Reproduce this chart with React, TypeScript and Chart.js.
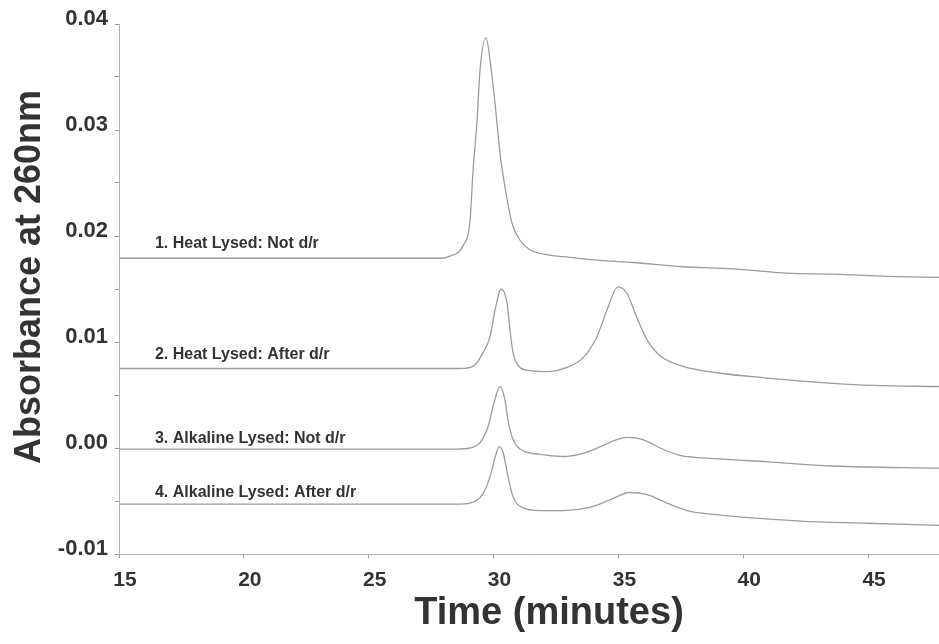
import { useEffect, useRef } from "react";
import { Chart, registerables } from "chart.js";

Chart.register(...registerables);

// ---------- data ----------
const xTickValues = [15, 20, 25, 30, 35, 40, 45];
const xMin = 15;
const xMax = 47.84;
const yMin = -0.01;
const yMax = 0.04;

const time1 = [15, 20, 25, 27.86, 28.26, 28.78, 29.06, 29.18, 29.34, 29.46, 29.7, 29.86, 30.06, 30.26, 30.46, 30.74, 31.06, 31.46, 32.26, 33.0, 34.26, 35.58, 37.59, 39.59, 41.75, 43.59, 45.76, 47.84];
const abs1 = [0.0179, 0.0179, 0.0179, 0.0179, 0.0181, 0.0191, 0.0215, 0.0262, 0.0309, 0.0357, 0.0387, 0.0366, 0.0325, 0.0278, 0.0246, 0.0212, 0.0196, 0.0187, 0.0182, 0.018, 0.0177, 0.0175, 0.0171, 0.0169, 0.0165, 0.0164, 0.0162, 0.0161];

const time2 = [15, 20, 25, 28.66, 29.18, 29.58, 29.86, 30.06, 30.3, 30.54, 30.66, 30.78, 31.06, 31.46, 32.14, 32.94, 33.58, 34.14, 34.54, 34.98, 35.34, 35.74, 36.15, 36.67, 37.59, 38.95, 40.95, 43.59, 45.2, 47.84];
const abs2 = [0.0075, 0.0075, 0.0075, 0.0075, 0.0077, 0.009, 0.0105, 0.013, 0.015, 0.0137, 0.0111, 0.009, 0.0076, 0.0073, 0.0072, 0.0076, 0.0085, 0.0105, 0.013, 0.0152, 0.0146, 0.0123, 0.0102, 0.0087, 0.0077, 0.0071, 0.0066, 0.0061, 0.0059, 0.0058];

const time3 = [15, 20, 25, 28.5, 29.06, 29.46, 29.78, 29.98, 30.26, 30.46, 30.58, 30.78, 31.06, 31.86, 32.78, 33.58, 34.26, 34.94, 35.38, 35.98, 36.67, 37.47, 38.95, 40.95, 43.59, 47.84];
const abs3 = [-0.0001, -0.0001, -0.0001, -0.0001, 0.0, 0.0005, 0.002, 0.0039, 0.0058, 0.0045, 0.0026, 0.0008, -0.0001, -0.0006, -0.0008, -0.0005, 0.0001, 0.0008, 0.001, 0.0008, 0.0, -0.0007, -0.001, -0.0013, -0.0017, -0.0019];

const time4 = [15, 20, 25, 28.5, 29.06, 29.58, 29.86, 30.06, 30.22, 30.38, 30.58, 30.78, 31.14, 31.86, 32.78, 33.86, 34.66, 35.46, 36.15, 36.95, 37.75, 38.55, 42.27, 44.96, 47.84];
const abs4 = [-0.0053, -0.0053, -0.0053, -0.0053, -0.0052, -0.0043, -0.0027, -0.0009, 0.0001, -0.0004, -0.0027, -0.0046, -0.0056, -0.0059, -0.0059, -0.0056, -0.0049, -0.0042, -0.0044, -0.0052, -0.0059, -0.0062, -0.0069, -0.0071, -0.0073];

const seriesNames = [
  "1. Heat Lysed: Not d/r",
  "2. Heat Lysed: After d/r",
  "3. Alkaline Lysed: Not d/r",
  "4. Alkaline Lysed: After d/r",
];
const labelTimes = [16.44, 16.44, 16.44, 16.44];
const labelAbs = [0.0193, 0.0088, 0.0009, -0.0042];

const xTitle = "Time (minutes)";
const yTitle = "Absorbance at 260nm";

const FONT = '"Liberation Sans", Arial, Helvetica, sans-serif';

function pts(t: number[], v: number[]) {
  return t.map((x, i) => ({ x, y: v[i] }));
}

export default function App() {
  const ref = useRef<HTMLCanvasElement | null>(null);

  useEffect(() => {
    if (!ref.current) return;
    const lineStyle = {
      borderColor: "#9c9c9c",
      borderWidth: 1.3,
      pointRadius: 0,
      fill: false,
      cubicInterpolationMode: "monotone" as const,
    };

    const annotPlugin = {
      id: "annot",
      afterDatasetsDraw(chart: any) {
        const { ctx, chartArea, scales } = chart;
        ctx.save();
        ctx.fillStyle = "#333333";
        ctx.font = `bold 16px ${FONT}`;
        ctx.textAlign = "left";
        ctx.textBaseline = "middle";
        seriesNames.forEach((name, i) => {
          const px = scales.x.getPixelForValue(labelTimes[i]);
          const py = scales.y.getPixelForValue(labelAbs[i]);
          ctx.fillText(name, px, py);
        });
        // axis titles
        ctx.font = `bold 38px ${FONT}`;
        ctx.textAlign = "center";
        ctx.textBaseline = "middle";
        ctx.fillText(xTitle, chartArea.left + 430, chartArea.bottom + 60);
        ctx.font = `bold 36px ${FONT}`;
        ctx.translate(30, (chartArea.top + chartArea.bottom) / 2 - 12);
        ctx.rotate(-Math.PI / 2);
        ctx.fillText(yTitle, 0, 0);
        ctx.restore();
      },
    };

    const chart = new Chart(ref.current, {
      type: "line",
      data: {
        datasets: [
          { label: seriesNames[0], data: pts(time1, abs1), ...lineStyle },
          { label: seriesNames[1], data: pts(time2, abs2), ...lineStyle },
          { label: seriesNames[2], data: pts(time3, abs3), ...lineStyle },
          { label: seriesNames[3], data: pts(time4, abs4), ...lineStyle },
        ],
      },
      options: {
        animation: false,
        responsive: false,
        devicePixelRatio: 1,
        layout: { padding: { top: 24, right: 0, left: 0, bottom: 0 } },
        plugins: {
          legend: { display: false },
          tooltip: { enabled: false },
          title: { display: false },
        },
        scales: {
          x: {
            type: "linear",
            min: xMin,
            max: xMax,
            afterBuildTicks: (s: any) => {
              s.ticks = xTickValues.map((v) => ({ value: v }));
            },
            afterFit: (s: any) => {
              s.height = 90;
            },
            grid: {
              display: true,
              drawOnChartArea: false,
              drawTicks: true,
              tickLength: 4,
              color: "#9a9a9a",
            },
            border: { display: true, color: "#b0b0b0", width: 1 },
            ticks: {
              color: "#333333",
              font: { family: FONT, size: 21, weight: "bold" },
              padding: 10,
              labelOffset: 6,
              maxRotation: 0,
              autoSkip: false,
              callback: (v: any) => String(v),
            },
            title: { display: false },
          },
          y: {
            type: "linear",
            min: yMin,
            max: yMax,
            afterFit: (s: any) => {
              s.width = 119;
            },
            grid: {
              display: true,
              drawOnChartArea: false,
              drawTicks: true,
              tickLength: 4,
              color: "#9a9a9a",
            },
            border: { display: true, color: "#b0b0b0", width: 1 },
            ticks: {
              stepSize: 0.005,
              color: "#333333",
              font: { family: FONT, size: 22, weight: "bold" },
              padding: 7,
              labelOffset: -5,
              autoSkip: false,
              callback: (v: any) => {
                const n = Number(v);
                const k = Math.round(n * 1000);
                if (k % 10 !== 0) return "";
                return n.toFixed(2);
              },
            },
            title: { display: false },
          },
        },
      },
      plugins: [annotPlugin],
    });
    return () => chart.destroy();
  }, []);

  return (
    <div style={{ position: "absolute", left: 0, top: 0, width: 939, height: 644, background: "#fff" }}>
      <canvas ref={ref} width={939} height={644} style={{ width: 939, height: 644, display: "block" }} />
    </div>
  );
}
